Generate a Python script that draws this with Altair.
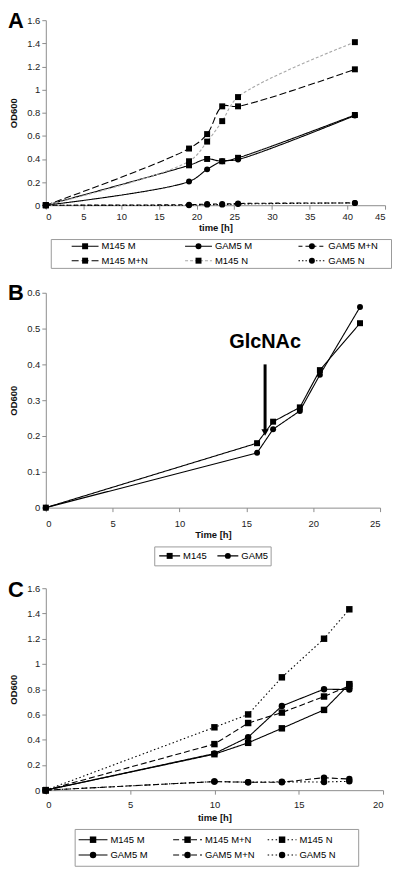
import altair as alt
import pandas as pd

FONT = "Liberation Sans"

# ---------------- Panel A data ----------------
a_time = [0, 19, 21.4, 23.4, 25.5, 41]
a_names = ["M145 M", "GAM5 M", "GAM5 M+N", "M145 M+N", "M145 N", "GAM5 N"]
a_m145_m = [0, 0.345, 0.40, 0.38, 0.41, 0.78]
a_gam5_m = [0, 0.205, 0.31, 0.38, 0.395, 0.775]
a_gam5_mn = [0, 0.005, 0.01, 0.01, 0.015, 0.02]
a_m145_mn = [0, 0.49, 0.615, 0.855, 0.855, 1.175]
a_m145_n = [0, 0.38, 0.55, 0.727, 0.935, 1.41]
a_gam5_n = [0, 0.0, 0.005, 0.005, 0.01, 0.02]
a_x_ticks = [0, 5, 10, 15, 20, 25, 30, 35, 40, 45]
a_y_ticks = [0, 0.2, 0.4, 0.6, 0.8, 1, 1.2, 1.4, 1.6]

# ---------------- Panel B data ----------------
b_time = [0, 15.8, 17, 19, 20.5, 23.5]
b_names = ["M145", "GAM5"]
b_m145 = [0, 0.18, 0.24, 0.28, 0.384, 0.515]
b_gam5 = [0, 0.153, 0.219, 0.27, 0.371, 0.56]
b_x_ticks = [0, 5, 10, 15, 20, 25]
b_y_ticks = [0, 0.1, 0.2, 0.3, 0.4, 0.5, 0.6]
arrow_time = [16.4]
arrow_top = [0.40]
arrow_end = [0.215]
arrow_tip = [0.21]
arrow_label = ["GlcNAc"]
arrow_label_od = [0.462]

# ---------------- Panel C data ----------------
c_time = [0, 10, 12, 14, 16.5, 18]
c_names = ["M145 M", "M145 M+N", "M145 N", "GAM5 M", "GAM5 M+N", "GAM5 N"]
c_m145_m = [0, 0.285, 0.375, 0.49, 0.636, 0.84]
c_m145_mn = [0, 0.365, 0.532, 0.615, 0.742, 0.826]
c_m145_n = [0, 0.498, 0.60, 0.894, 1.20, 1.433]
c_gam5_m = [0, 0.29, 0.42, 0.667, 0.80, 0.797]
c_gam5_mn = [0, 0.068, 0.063, 0.063, 0.099, 0.088]
c_gam5_n = [0, 0.068, 0.063, 0.066, 0.065, 0.07]
c_x_ticks = [0, 5, 10, 15, 20]
c_y_ticks = [0, 0.2, 0.4, 0.6, 0.8, 1, 1.2, 1.4, 1.6]

# ---------------- styles ----------------
a_dash = [[1, 0], [1, 0], [4, 3], [7, 3], [3, 2], [1.5, 2]]
a_color = ["black", "black", "black", "black", "#a8a8a8", "black"]
a_shape = ["square", "circle", "circle", "square", "square", "circle"]

b_dash = [[1, 0], [1, 0]]
b_color = ["black", "black"]
b_shape = ["square", "circle"]

c_dash = [[1, 0], [6, 3], [1.5, 2.5], [1, 0], [6, 3], [1.5, 2.5]]
c_color = ["black"] * 6
c_shape = ["square", "square", "square", "circle", "circle", "circle"]


def long_df(times, names, series_lists):
    rows = []
    for name, vals in zip(names, series_lists):
        for t, v in zip(times, vals):
            rows.append({"series": name, "t": t, "od": v})
    return pd.DataFrame(rows)


dfA = long_df(a_time, a_names, [a_m145_m, a_gam5_m, a_gam5_mn, a_m145_mn, a_m145_n, a_gam5_n])
dfB = long_df(b_time, b_names, [b_m145, b_gam5])
dfC = long_df(c_time, c_names, [c_m145_m, c_m145_mn, c_m145_n, c_gam5_m, c_gam5_mn, c_gam5_n])

LETTER_X = -38


def make_plot(df, names, dash, color, shape, xdom, xticks, ydom, yticks, w, h,
              xtitle, letter, letter_y, interp, msize, label_pad, title_pad, extra=None):
    xenc = alt.X("t:Q", scale=alt.Scale(domain=xdom, nice=False, zero=False),
                 axis=alt.Axis(values=xticks, tickCount=len(xticks), title=xtitle, format="~g",
                               labelOverlap=False, labelPadding=label_pad, titlePadding=title_pad))
    yenc = alt.Y("od:Q", scale=alt.Scale(domain=ydom, nice=False, zero=False),
                 axis=alt.Axis(values=yticks, tickCount=len(yticks), title="OD600", format="~g",
                               labelOverlap=False))
    base = alt.Chart(df)
    lines = base.mark_line(strokeWidth=1.1, interpolate=interp).encode(
        x=xenc, y=yenc,
        stroke=alt.Stroke("series:N", scale=alt.Scale(domain=names, range=color), legend=None),
        strokeDash=alt.StrokeDash("series:N", scale=alt.Scale(domain=names, range=dash), legend=None),
        order="t:Q",
    )
    pts = base.mark_point(filled=True, opacity=1, color="black", size=msize).encode(
        x="t:Q", y="od:Q",
        shape=alt.Shape("series:N", scale=alt.Scale(domain=names, range=shape), legend=None),
    )
    lab = alt.Chart(pd.DataFrame({"l": [letter]})).mark_text(
        align="left", baseline="alphabetic", fontSize=22, fontWeight="bold", font=FONT, color="black"
    ).encode(x=alt.value(LETTER_X), y=alt.value(letter_y), text="l:N")
    layers = [lines, pts]
    if extra:
        layers += extra
    layers.append(lab)
    return alt.layer(*layers).properties(width=w, height=h)


def make_legend(names, dash, color, shape, ncol, w, h, left, line_len, ypad, spacer_w, msize, fsize):
    n = len(names)
    ldf = pd.DataFrame({
        "series": names,
        "col": [i % ncol for i in range(n)],
        "row": [i // ncol for i in range(n)],
    })
    xs = alt.X("col:Q", scale=alt.Scale(domain=[0, ncol], nice=False, zero=False), axis=None)
    ys = alt.Y("row:O", scale=alt.Scale(type="point", padding=ypad), axis=None)
    base = alt.Chart(ldf)
    rule = base.mark_rule(strokeWidth=1.1, xOffset=left, x2Offset=left + line_len).encode(
        x=xs, x2="col:Q", y=ys,
        stroke=alt.Stroke("series:N", scale=alt.Scale(domain=names, range=color), legend=None),
        strokeDash=alt.StrokeDash("series:N", scale=alt.Scale(domain=names, range=dash), legend=None),
    )
    pts = base.mark_point(filled=True, opacity=1, color="black", size=msize, xOffset=left + line_len / 2).encode(
        x=xs, y=ys,
        shape=alt.Shape("series:N", scale=alt.Scale(domain=names, range=shape), legend=None),
    )
    txt = base.mark_text(align="left", baseline="middle", dx=left + line_len + 3, fontSize=fsize,
                         font=FONT, color="black").encode(x=xs, y=ys, text="series:N")
    leg = alt.layer(rule, pts, txt).properties(
        width=w, height=h, view=alt.ViewBackground(stroke="#9a9a9a", strokeWidth=1)
    )
    spacer = alt.Chart(pd.DataFrame({"s": [0]})).mark_point(opacity=0).encode(
        x=alt.value(0), y=alt.value(0)
    ).properties(width=spacer_w, height=1)
    return alt.hconcat(spacer, leg, spacing=0).resolve_scale(
        stroke="independent", strokeDash="independent", shape="independent")


# ---- Panel A ----
plotA = make_plot(dfA, a_names, a_dash, a_color, a_shape, [0, 45], a_x_ticks, [0, 1.6], a_y_ticks,
                  341, 186, "time [h]", "A", 8, "catmull-rom", 36, 2, 2)
legA = make_legend(a_names, a_dash, a_color, a_shape, 3, 342, 29, 21, 27, 0.5, 4, 36, 9.5)

# ---- Panel B ----
arrow_df = pd.DataFrame({"t": arrow_time, "od": arrow_top, "od2": arrow_end})
tip_df = pd.DataFrame({"t": arrow_time, "od": arrow_tip})
glc_df = pd.DataFrame({"t": arrow_time, "od": arrow_label_od, "lab": arrow_label})
arrow = alt.Chart(arrow_df).mark_rule(strokeWidth=3, color="black").encode(x="t:Q", y="od:Q", y2="od2:Q")
tip = alt.Chart(tip_df).mark_point(shape="triangle-down", filled=True, opacity=1, color="black", size=55).encode(
    x="t:Q", y="od:Q")
glc = alt.Chart(glc_df).mark_text(fontSize=20, fontWeight="bold", font=FONT, color="black").encode(
    x="t:Q", y="od:Q", text="lab:N")
plotB = make_plot(dfB, b_names, b_dash, b_color, b_shape, [0, 25], b_x_ticks, [0, 0.6], b_y_ticks,
                  336, 216, "Time [h]", "B", 7, "linear", 36, 7, 2, extra=[arrow, tip, glc])
legB = make_legend(b_names, b_dash, b_color, b_shape, 2, 117, 19, 5, 21, 0.5, 108, 36, 9.5)

# ---- Panel C ----
plotC = make_plot(dfC, c_names, c_dash, c_color, c_shape, [0, 20], c_x_ticks, [0, 1.6], c_y_ticks,
                  339, 203, "time [h]", "C", 9, "linear", 42, 5, 4)
legC = make_legend(c_names, c_dash, c_color, c_shape, 3, 285, 37, 4, 29, 0.7, 28, 42, 9.5)


def panel(p, l):
    return alt.vconcat(p, l, spacing=4).resolve_scale(
        stroke="independent", strokeDash="independent", shape="independent")


chart = alt.vconcat(panel(plotA, legA), panel(plotB, legB), panel(plotC, legC), spacing=13).resolve_scale(
    stroke="independent", strokeDash="independent", shape="independent"
).properties(
    padding={"left": 0, "top": 0, "right": 0, "bottom": 0}
).configure_view(stroke=None).configure_axis(
    grid=False, domainColor="#8c8c8c", tickColor="#8c8c8c", tickSize=4, labelOverlap=False,
    labelFont=FONT, labelFontSize=9.5, labelColor="#222222", labelPadding=2,
    titleFont=FONT, titleFontSize=9.5, titleFontWeight="bold", titleColor="#111111",
).configure_axisY(titlePadding=8)

chart.save("out.html", embed_options={"renderer": "svg", "actions": False})
